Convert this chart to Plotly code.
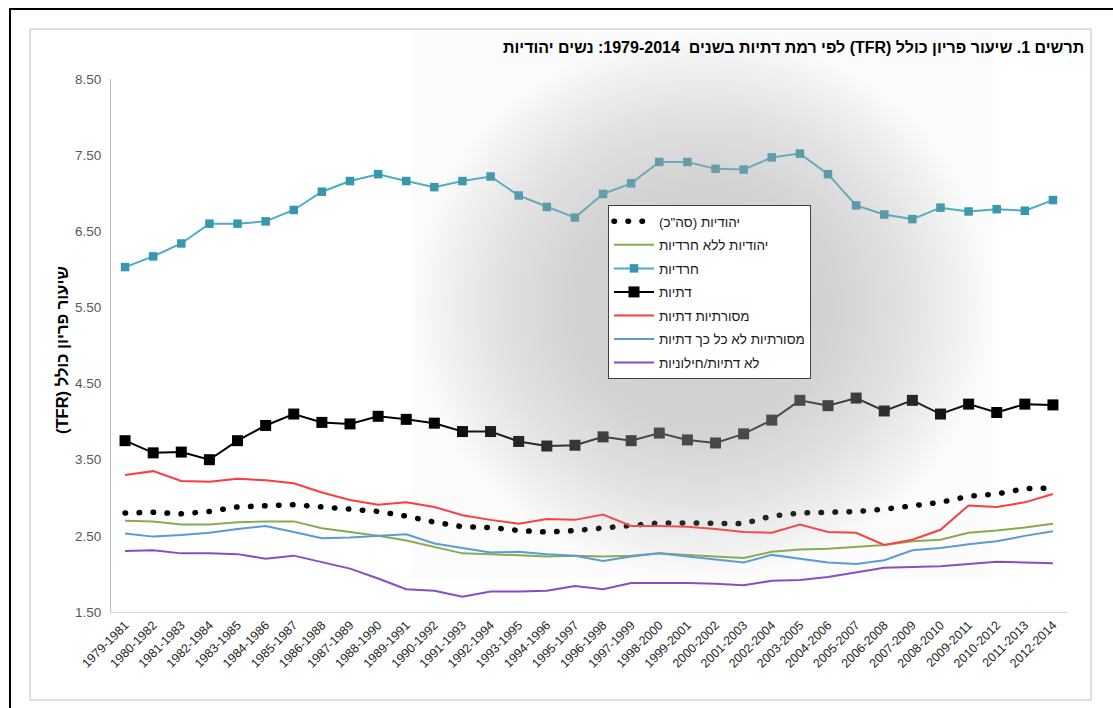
import base64
import plotly.graph_objects as go

periods = ["1979-1981", "1980-1982", "1981-1983", "1982-1984", "1983-1985", "1984-1986",
           "1985-1987", "1986-1988", "1987-1989", "1988-1990", "1989-1991", "1990-1992",
           "1991-1993", "1992-1994", "1993-1995", "1994-1996", "1995-1997", "1996-1998",
           "1997-1999", "1998-2000", "1999-2001", "2000-2002", "2001-2003", "2002-2004",
           "2003-2005", "2004-2006", "2005-2007", "2006-2008", "2007-2009", "2008-2010",
           "2009-2011", "2010-2012", "2011-2013", "2012-2014"]

jewish_total = [2.80, 2.81, 2.79, 2.82, 2.88, 2.90, 2.91, 2.88, 2.85, 2.82, 2.76, 2.68,
                2.62, 2.61, 2.57, 2.55, 2.57, 2.60, 2.63, 2.67, 2.67, 2.66, 2.66, 2.76,
                2.80, 2.81, 2.82, 2.85, 2.90, 2.94, 3.02, 3.05, 3.12, 3.13]
jewish_no_haredi = [2.70, 2.69, 2.65, 2.65, 2.68, 2.69, 2.69, 2.60, 2.55, 2.50, 2.44, 2.36,
                    2.27, 2.26, 2.24, 2.23, 2.24, 2.23, 2.24, 2.27, 2.25, 2.23, 2.21, 2.29,
                    2.32, 2.33, 2.36, 2.38, 2.43, 2.45, 2.54, 2.57, 2.61, 2.66]
haredi = [6.03, 6.17, 6.34, 6.60, 6.60, 6.63, 6.78, 7.02, 7.16, 7.25, 7.16, 7.08,
          7.16, 7.22, 6.97, 6.82, 6.68, 6.99, 7.13, 7.41, 7.41, 7.32, 7.31, 7.47,
          7.52, 7.25, 6.84, 6.72, 6.66, 6.81, 6.76, 6.79, 6.77, 6.91]
religious = [3.75, 3.59, 3.60, 3.50, 3.75, 3.95, 4.10, 3.99, 3.97, 4.07, 4.03, 3.98,
             3.87, 3.87, 3.74, 3.68, 3.69, 3.80, 3.75, 3.85, 3.76, 3.72, 3.84, 4.02,
             4.28, 4.21, 4.31, 4.14, 4.28, 4.10, 4.23, 4.12, 4.23, 4.22]
trad_religious = [3.30, 3.35, 3.22, 3.21, 3.25, 3.23, 3.19, 3.07, 2.97, 2.91, 2.94, 2.88,
                  2.77, 2.71, 2.66, 2.72, 2.71, 2.78, 2.63, 2.63, 2.62, 2.59, 2.55, 2.54,
                  2.65, 2.55, 2.54, 2.38, 2.45, 2.58, 2.90, 2.88, 2.94, 3.05]
trad_less = [2.53, 2.49, 2.51, 2.54, 2.59, 2.63, 2.55, 2.47, 2.48, 2.50, 2.52, 2.40,
             2.34, 2.28, 2.29, 2.26, 2.24, 2.17, 2.23, 2.27, 2.23, 2.19, 2.15, 2.25,
             2.20, 2.15, 2.13, 2.18, 2.31, 2.34, 2.39, 2.43, 2.50, 2.56]
secular = [2.30, 2.31, 2.27, 2.27, 2.26, 2.20, 2.24, 2.15, 2.07, 1.94, 1.80, 1.78,
           1.70, 1.77, 1.77, 1.78, 1.84, 1.80, 1.88, 1.88, 1.88, 1.87, 1.85, 1.91,
           1.92, 1.96, 2.02, 2.08, 2.09, 2.10, 2.13, 2.16, 2.15, 2.14]


def rtl(s):
    # isolate as right-to-left so hebrew + latin/parentheses order correctly
    return "\u2067" + s + "\u2069"


FONT = "Liberation Sans, Arial, sans-serif"

fig = go.Figure()
fig.add_trace(go.Scatter(
    name=rtl('יהודיות (סה"כ)'), x=periods, y=jewish_total, mode="lines",
    line=dict(color="black", width=5.5, dash="0.5px,13.5px")))
fig.add_trace(go.Scatter(
    name=rtl("יהודיות ללא חרדיות"), x=periods, y=jewish_no_haredi, mode="lines",
    line=dict(color="#86ad4b", width=2)))
fig.add_trace(go.Scatter(
    name=rtl("חרדיות"), x=periods, y=haredi, mode="lines+markers",
    line=dict(color="#4bacc6", width=2),
    marker=dict(symbol="square", size=8.5, color="#3797ae")))
fig.add_trace(go.Scatter(
    name=rtl("דתיות"), x=periods, y=religious, mode="lines+markers",
    line=dict(color="black", width=2),
    marker=dict(symbol="square", size=11, color="black")))
fig.add_trace(go.Scatter(
    name=rtl("מסורתיות דתיות"), x=periods, y=trad_religious, mode="lines",
    line=dict(color="#ff3b3b", width=2)))
fig.add_trace(go.Scatter(
    name=rtl("מסורתיות לא כל כך דתיות"), x=periods, y=trad_less, mode="lines",
    line=dict(color="#5b9bd5", width=2)))
fig.add_trace(go.Scatter(
    name=rtl("לא דתיות/חילוניות"), x=periods, y=secular, mode="lines",
    line=dict(color="#8a4cc4", width=2)))

for i, tr in enumerate(fig.data):
    tr.legendgroup = "g%d" % i

# soft grey radial "glow" laid over the middle of the plot
svg = """<svg xmlns='http://www.w3.org/2000/svg' width='580' height='547' viewBox='0 0 580 547' preserveAspectRatio='none'>
<defs><radialGradient id='g' cx='0.5' cy='0.5' r='0.5'>
<stop offset='0' stop-color='#a3a3a3' stop-opacity='0.53'/>
<stop offset='0.45' stop-color='#a3a3a3' stop-opacity='0.48'/>
<stop offset='0.7' stop-color='#a3a3a3' stop-opacity='0.32'/>
<stop offset='0.9' stop-color='#a3a3a3' stop-opacity='0.14'/>
<stop offset='1' stop-color='#a3a3a3' stop-opacity='0.035'/>
</radialGradient></defs>
<rect width='580' height='547' fill='url(#g)'/></svg>"""
glow = "data:image/svg+xml;base64," + base64.b64encode(svg.encode()).decode()

W, H = 1113, 708
L, R, T, B = 111, 1067, 79, 612


def px(x):
    return (x - L) / (R - L)


def py(y):
    return (B - y) / (B - T)


fig.update_layout(
    width=W, height=H,
    margin=dict(l=L, r=W - R, t=T, b=H - B, pad=0),
    paper_bgcolor="white",
    plot_bgcolor="rgba(0,0,0,0)",
    font=dict(family=FONT, color="#404040", size=12),
    showlegend=True,
    legend=dict(x=px(608), y=py(205), xanchor="left", yanchor="top",
                bgcolor="white", bordercolor="#404040", borderwidth=1,
                font=dict(size=13.5, color="#1a1a1a", family=FONT),
                tracegroupgap=3, itemwidth=40),
    xaxis=dict(type="category", range=[-0.5, len(periods) - 0.5], tickangle=-45,
               showgrid=False, showline=True, linecolor="#d9d9d9", linewidth=1,
               ticks="", tickfont=dict(size=12.5, color="#262626"), zeroline=False),
    yaxis=dict(range=[1.5, 8.5], tick0=1.5, dtick=1, tickformat=".2f",
               showgrid=False, showline=True, linecolor="#bfbfbf", linewidth=1,
               ticks="", tickfont=dict(size=13.5, color="#595959"), zeroline=False,
               ticklabelstandoff=6),
    images=[dict(source=glow, xref="paper", yref="paper", x=px(412), y=py(32),
                 sizex=px(993) - px(412), sizey=py(32) - py(579),
                 sizing="stretch", layer="above", xanchor="left", yanchor="top")],
    annotations=[
        dict(text="<b>" + rtl("תרשים 1. שיעור פריון כולל (TFR) לפי רמת דתיות בשנים  1979-2014: נשים יהודיות") + "</b>",
             xref="paper", yref="paper", x=px(1086), y=py(47), xanchor="right", yanchor="middle",
             showarrow=False, font=dict(size=16, color="black", family=FONT)),
        dict(text="<b>" + rtl("שיעור פריון כולל (TFR)") + "</b>",
             xref="paper", yref="paper", x=px(62), y=py(350), textangle=-90,
             xanchor="center", yanchor="middle", showarrow=False,
             font=dict(size=16.5, color="black", family=FONT)),
    ],
    shapes=[
        dict(type="rect", xref="paper", yref="paper", x0=px(30), x1=px(1091), y0=py(29), y1=py(700),
             line=dict(color="#bfbfbf", width=1), layer="below"),
        dict(type="rect", xref="paper", yref="paper", x0=px(10), x1=px(1125), y0=py(9), y1=py(720),
             line=dict(color="black", width=2), layer="below"),
    ],
)

# page body has a default 8px margin; drop it, and round the dotted line's dashes
post = """
document.body.style.margin = '0';
document.body.style.overflow = 'hidden';
document.querySelectorAll('path').forEach(function (p) {
  if ((p.style.strokeDasharray || '').indexOf('13.5') >= 0) { p.style.strokeLinecap = 'round'; }
});
"""

fig.write_html("out.html", post_script=post, config={"displayModeBar": False})
